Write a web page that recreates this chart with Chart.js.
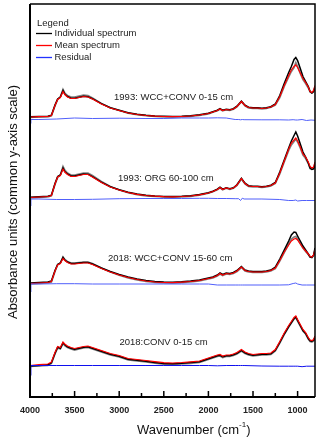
<!DOCTYPE html>
<html>
<head>
<meta charset="utf-8">
<script src="https://cdn.jsdelivr.net/npm/chart.js@4/dist/chart.umd.min.js"></script>
<style>
  body { margin: 0; background: #fff; }
  #wrap { width: 320px; height: 441px; }
</style>
</head>
<body>
<div id="wrap"><canvas id="ftirChart"></canvas></div>
<script>
// wavenumber grid (cm-1) shared by the spectra
const wavenumbers = [4000,3900,3800,3760,3720,3690,3660,3630,3610,3580,3540,3500,3450,3400,3350,3300,3200,3100,3000,2900,2800,2700,2600,2500,2400,2300,2200,2100,2000,1950,1900,1870,1840,1800,1760,1720,1680,1630,1590,1550,1500,1450,1400,1350,1300,1250,1200,1150,1100,1070,1040,1020,1000,970,940,910,880,860,840,820,805];

// 1993: WCC+CONV 0-15 cm (heights above its own baseline)
const mean1 =   [1.5,1.8,2,3,13,19,21,27,24,21.5,20,20,21,22,21.5,19.5,14.5,10.5,8,5.5,4,3,2.3,2,1.8,2,2.5,3.5,5,6.5,8,9.5,8,9,8.5,9.5,12,17,13,11,10.5,10.5,10,10.5,11.5,14,22,33,43,48.5,52,53.5,51,45.5,40,36,31.5,27,26,28,33];
const indivA1 = [1.8,2.1,2.3,3.3,13.5,19.5,21.5,28,24.5,22,20.3,20.3,21.3,22.3,21.8,19.8,14.8,10.8,8.3,5.8,4.3,3.3,2.6,2.3,2.1,2.3,2.8,3.8,5.3,6.8,8.3,9.8,8.3,9.3,8.8,9.8,12.3,17.3,13.3,11.3,10.8,10.8,10.3,10.8,11.8,14.5,23,35,46,52,59,61,58,50,42,37,32,27,25.5,27,31];
const indivB1 = [1.2,1.5,1.7,2.7,12.5,19,21.5,29,25.5,23,21.5,21.5,22.5,23.5,23,20.5,15,10.8,8,5.3,3.8,2.8,2,1.7,1.5,1.7,2.2,3.2,4.7,6.2,7.7,9.2,7.7,8.7,8.2,9.2,11.7,16.7,12.7,10.7,10.2,10.2,9.7,10.2,11.2,13.5,21,32,41.5,47,51,56,52,45,39,35,30.5,26.5,25.5,27.5,32];

// 1993: ORG 60-100 cm
const mean2 =   [1.5,2,2.5,3.5,15,22,23.5,30,27,24.5,22.5,22.5,23.5,24.5,24.5,22,16.5,12,9,6.5,4.7,3.5,2.8,2.3,2.2,2.5,3,4.2,6,7.5,9.5,11.5,9.5,11,10,11,14,20.5,15.5,13,12.5,12.5,12,12.5,13.5,16,26,38,50,56,59,61,58,52,45,42,37,32.5,31,32,37];
const indivA2 = [1.8,2.3,2.8,3.8,15.5,22.5,24,31,27.5,25,23,23,24,25,24.8,22.3,16.8,12.3,9.3,6.8,5,3.8,3.1,2.6,2.5,2.8,3.3,4.5,6.3,7.8,9.8,11.8,9.8,11.3,10.3,11.3,14.3,20.8,15.8,13.3,12.8,12.8,12.3,12.8,13.8,16.5,27,39,51,58,63.5,67,63,55,47,42,36,31,29.5,30,34];
const indivB2 = [1.2,1.7,2.2,3.2,14.5,21.5,24,32.5,29,26,24,24,25,26,26,23.5,17.5,12.5,9,6.2,4.4,3.2,2.5,2,1.9,2.2,2.7,3.9,5.7,7.2,9.2,11.2,9.2,10.7,9.7,10.7,13.7,20,15,12.5,12,12,11.5,12,13,15.5,25,37,48.5,54,57.5,60,57,51,44,40.5,35.5,30.5,30,31,35.5];

// 2018: WCC+CONV 15-60 cm
const mean3 =   [0.5,1,1.5,2.5,13,19,20.5,25.5,23.5,21.5,20,20,20.5,21,21,19.5,15.5,12,9,6.5,4.5,3,2,1.5,1.3,1.8,2.5,3.5,5.5,6.5,8.5,10.5,9,10.5,10,11,13,17,13.5,12.5,12,12,12,12.5,13.5,16,23.5,32,39,43,45,45.5,44,40,36,33,30,27.5,27,29,34];
const indivA3 = [1,1.5,2,3,13.5,19.5,21,26.5,24,22,20.5,20.5,21,21.5,21.5,20,16,12.5,9.5,7,5,3.5,2.5,2,1.8,2.3,3,4,6,7,9,11,9.5,11,10.5,11.5,13.5,17.5,14,13,12.5,12.5,12.5,13,14,17,25,34,43,49,52,51.5,48,43,38,34,30,27,26.5,29,36];
const indivB3 = [0,0.5,1,2,12.5,19.5,21,27,24.5,22.5,21,21,21.5,22,22,20.5,16,12,8.7,6,4,2.5,1.5,1,0.8,1.3,2,3,5,6,8,10,8.5,10,9.5,10.5,12.5,16.5,13,12,11.5,11.5,11.5,12,13,15.5,23,31.5,40,45,47,47.5,45,40.5,36,32.5,29.5,27,26.5,28.5,33.5];

// 2018:CONV 0-15 cm
const mean4 =   [0,0.8,1.5,3.5,13,19,18,23.5,21.5,19.5,18,17,18,19,19.5,18,15,12,10,7,6,5,3.8,2.8,2.5,3,3.7,4.5,7.5,9,10.5,11,9.5,10.5,10.5,11.5,13,16,13.5,12,11,11.5,12,12,12.5,16,24,32.5,40,44,48,49.5,46,41,36,33,28,25.5,25,26,29.5];
const indivA4 = [-0.5,0,0.7,2.7,12.2,18.2,17.2,22.7,20.7,18.7,17.2,16.2,17.2,18.2,18.7,17.2,14.2,11.2,9.2,6.2,5.2,4.2,3,2,1.7,2.2,2.9,3.7,6.7,8.2,9.7,10.2,8.7,9.7,9.7,10.7,12.2,15.2,12.7,11.2,10.2,10.7,11.2,11.2,11.7,15.2,23,31.5,39,43,47,48.5,45,40,35,32,27,24.7,24.2,25.2,28.7];
const indivB4 = [-1,-0.5,0,2,11.5,17.5,16.5,22,20,18,16.5,15.5,16.5,17.5,18,16.5,13.5,10.5,8.5,5.5,4.5,3.5,2.3,1.3,1,1.5,2.2,3,6,7.5,9,9.5,8,9,9,10,11.5,14.5,12,10.5,9.5,10,10.5,10.5,11,14.5,22.5,31,38.5,42.5,46.5,48,44.5,39.5,34.5,31.5,26.5,24,23.5,24.5,28];

// residuals on their own grid
const residualWn = [4000,3990,3900,3700,3500,3300,3000,2700,2500,2300,2100,2000,1900,1800,1700,1660,1640,1620,1600,1400,1200,1100,1050,1020,1000,950,900,850,805];
const resid1 = [-5,-1,-1,-0.5,0.5,0,0.3,0,0,0.5,0.5,0.5,0.7,0.5,-1,-1,-1.3,-1,-1.2,-1.3,-1.3,-1.5,-1.2,-1.5,-1.5,-1,-2,-1.5,-1.8];
const resid2 = [-7,0,0,-0.5,-0.5,-0.3,0.3,0.5,0.5,0.5,0.7,0.7,0.5,0.5,0.3,0.3,-1.5,0.8,0,0,-0.5,-1.5,-1.5,-1,-2,-1.5,-1.5,-1.5,-1.5];
const resid3 = [-8,0,0,0.3,0.3,0,0,0,0,0,0,0,-1,-1,-1,-1,-1,-1,-1,-1,-1,-0.8,0.5,1,0,-1,-1,-1,-1];
const resid4 = [-10,0,0,0,0,0,0,0,0,0,0,0,-0.3,0,0,0,0,0,0,-0.5,-0.7,-0.7,-0.7,-0.7,-0.7,-1.2,-0.7,-0.7,-0.7];

// vertical offsets of the four stacked groups
const groupOffsets = [278.5, 198, 113, 31.5];
const groupLabels = ['1993: WCC+CONV 0-15 cm', '1993: ORG 60-100 cm', '2018: WCC+CONV 15-60 cm', '2018:CONV 0-15 cm'];
const groupLabelWn = [3058, 3013, 3126, 2997];
const groupLabelY = [300, 219, 138.5, 55];

const xTicks = [4000, 3500, 3000, 2500, 2000, 1500, 1000];
const legendLabels = ['Individual spectrum', 'Mean spectrum', 'Residual'];
const legendColors = ['#000000', '#ff0000', '#2233ff'];

const FONT = "'Liberation Sans', Arial, sans-serif";

function toPoints(xs, ys, off) {
  return xs.map((x, i) => ({ x: x, y: ys[i] + off }));
}

const groups = [
  [mean1, indivA1, indivB1, resid1],
  [mean2, indivA2, indivB2, resid2],
  [mean3, indivA3, indivB3, resid3],
  [mean4, indivA4, indivB4, resid4]
];

const datasets = [];
groups.forEach((g, k) => {
  const off = groupOffsets[k];
  datasets.push({ data: toPoints(wavenumbers, g[2], off), borderColor: 'rgb(130,130,130)', borderWidth: 1.7, order: 4 });
  datasets.push({ data: toPoints(wavenumbers, g[1], off), borderColor: '#000', borderWidth: 1.5, order: 3 });
  datasets.push({ data: toPoints(wavenumbers, g[0], off), borderColor: '#ff0000', borderWidth: 1.2, order: 2 });
  datasets.push({ data: toPoints(residualWn, g[3], off), borderColor: k === 3 ? '#1010ee' : 'rgb(80,95,250)', borderWidth: 1, order: 1 });
});

const decorations = {
  id: 'decorations',
  afterDraw(chart) {
    const ctx = chart.ctx;
    const a = chart.chartArea;
    const xs = chart.scales.x, ys = chart.scales.y;
    ctx.save();
    ctx.strokeStyle = '#000';
    // frame
    ctx.lineWidth = 1.5;
    ctx.beginPath();
    ctx.moveTo(a.left, a.top); ctx.lineTo(a.right, a.top); ctx.lineTo(a.right, a.bottom);
    ctx.stroke();
    ctx.lineWidth = 2;
    ctx.beginPath();
    ctx.moveTo(a.left, a.top); ctx.lineTo(a.left, a.bottom); ctx.lineTo(a.right, a.bottom);
    ctx.stroke();
    // inward ticks, minor every 250
    ctx.lineWidth = 1.5;
    for (let v = 1000; v <= 4000; v += 250) {
      const px = xs.getPixelForValue(v);
      const len = v % 500 === 0 ? 6 : 4;
      ctx.beginPath();
      ctx.moveTo(px, a.bottom); ctx.lineTo(px, a.bottom - len);
      ctx.stroke();
    }
    // tick labels
    ctx.fillStyle = '#222';
    ctx.font = 'bold 9px ' + FONT;
    ctx.textAlign = 'center';
    ctx.textBaseline = 'middle';
    xTicks.forEach(v => ctx.fillText(String(v), xs.getPixelForValue(v), 411));
    // x title with superscript
    ctx.fillStyle = '#111';
    ctx.textAlign = 'left';
    ctx.font = '13px ' + FONT;
    const t1 = 'Wavenumber (cm';
    let tx = 137;
    ctx.fillText(t1, tx, 430);
    tx += ctx.measureText(t1).width;
    ctx.font = '8px ' + FONT;
    ctx.fillText('-1', tx, 425);
    tx += ctx.measureText('-1').width;
    ctx.font = '13px ' + FONT;
    ctx.fillText(')', tx, 430);
    // y title
    ctx.save();
    ctx.translate(13, 202);
    ctx.rotate(-Math.PI / 2);
    ctx.textAlign = 'center';
    ctx.font = '13px ' + FONT;
    ctx.fillText('Absorbance units (common y-axis scale)', 0, 0);
    ctx.restore();
    // group labels
    ctx.font = '9.5px ' + FONT;
    ctx.fillStyle = '#222';
    groupLabels.forEach((txt, i) => {
      ctx.fillText(txt, xs.getPixelForValue(groupLabelWn[i]), ys.getPixelForValue(groupLabelY[i]));
    });
    // legend
    ctx.fillText('Legend', 37, 23);
    legendLabels.forEach((txt, i) => {
      const y = 33.5 + i * 12;
      ctx.strokeStyle = legendColors[i];
      ctx.lineWidth = 1.3;
      ctx.beginPath();
      ctx.moveTo(36, y); ctx.lineTo(52, y);
      ctx.stroke();
      ctx.fillText(txt, 54.5, y);
    });
    ctx.restore();
  }
};

new Chart(document.getElementById('ftirChart'), {
  type: 'line',
  data: { datasets: datasets },
  options: {
    responsive: true,
    maintainAspectRatio: false,
    animation: false,
    layout: { padding: { left: 30, right: 5, top: 4, bottom: 44 } },
    elements: { point: { radius: 0 }, line: { tension: 0 } },
    scales: {
      x: { type: 'linear', reverse: true, min: 805, max: 4000, display: false },
      y: { min: 0, max: 393, display: false }
    },
    plugins: { legend: { display: false }, tooltip: { enabled: false } }
  },
  plugins: [decorations]
});
</script>
</body>
</html>
